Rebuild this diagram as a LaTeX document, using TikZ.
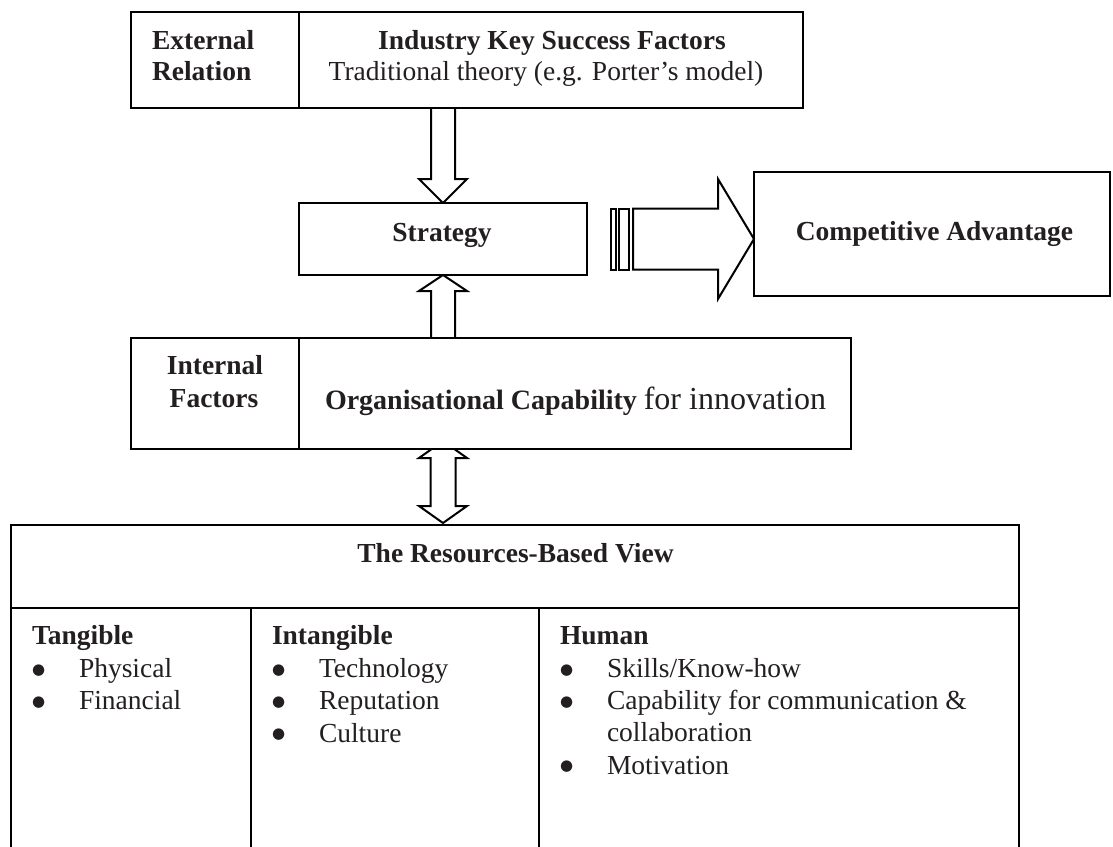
\documentclass[tikz,border=0pt]{standalone}
\usepackage{fontspec}
\setmainfont{Liberation Serif}
\newfontfamily\dotfont{DejaVu Sans}
\usetikzlibrary{calc,backgrounds}
\definecolor{ink}{HTML}{231F20}
\tikzset{
  box/.style={draw=black, line width=2.2pt, fill=white, rectangle,
    inner sep=0pt, outer sep=0pt, anchor=north west},
  blk/.style={draw=black, line width=2pt, fill=white, line join=miter},
  txt/.style={inner sep=0pt, outer sep=0pt, text=ink,
    font=\fontsize{27.5}{33}\selectfont},
  btxt/.style={txt, font=\fontsize{27.5}{33}\selectfont\bfseries},
  bul/.style={txt, anchor=base west, font=\dotfont\fontsize{15}{15}\selectfont},
  itm/.style={txt, anchor=base west},
}
\begin{document}
\begin{tikzpicture}[x=1pt,y=-1pt]
\useasboundingbox (0,0) rectangle (1113,846);
\clip (0,0) rectangle (1113,846);

% ---- boxes ----
\node[box, minimum width=168, minimum height=96]  (ext)   at (131,12)  {};
\node[box, minimum width=504, minimum height=96]  (ind)   at (299,12)  {};
\node[box, minimum width=288, minimum height=72]  (strat) at (299,203) {};
\node[box, minimum width=356, minimum height=124] (comp)  at (754,172) {};
\node[box, minimum width=168, minimum height=111] (intf)  at (131,338) {};
\node[box, minimum width=552, minimum height=111] (org)   at (299,338) {};
\node[box, minimum width=1008, minimum height=83] (rbv)   at (11,525)  {};
% resource columns run past the lower edge
\node[box, minimum width=240, minimum height=270] (tang)  at (11,608)  {};
\node[box, minimum width=288, minimum height=270] (intg)  at (251,608) {};
\node[box, minimum width=480, minimum height=270] (hum)   at (539,608) {};

% ---- labels ----
\node[btxt, anchor=base west] (extA) at (152,49)   {External};
\node[btxt, anchor=base west] (extB) at (152,80.5) {Relation};
\node[btxt, anchor=base] (indA) at (552,49)   {Industry Key Success Factors};
\node[txt,  anchor=base] (indB) at (546,80.5) {Traditional theory (e.g. Porter’s model)};
\node[btxt, anchor=base] (stratT) at (442,241) {Strategy};
\node[btxt, anchor=base] (compT)  at (934.5,240) {Competitive Advantage};
\node[btxt, anchor=base] (intA) at (215,374.3) {Internal};
\node[btxt, anchor=base] (intB) at (214,407.3) {Factors};
\node[txt, anchor=base west] (orgT) at (325,409)
  {{\fontsize{28}{33}\selectfont\bfseries Organisational Capability} {\fontsize{32}{38}\selectfont for innovation}};

\node[btxt, anchor=base] (rbvT) at (515.5,562) {The Resources-Based View};
\node[btxt, anchor=base west] (tangH) at (32,644)  {Tangible};
\node[btxt, anchor=base west] (intgH) at (272,644) {Intangible};
\node[btxt, anchor=base west] (humH)  at (560,644) {Human};

% tangible
\node[bul] (b1) at (32,674)    {●};
\node[itm] (i1) at (79,677.5)  {Physical};
\node[bul] (b2) at (32,706)    {●};
\node[itm] (i2) at (79,709.5)  {Financial};
% intangible
\node[bul] (b3) at (272,674)   {●};
\node[itm] (i3) at (319,677.5) {Technology};
\node[bul] (b4) at (272,706)   {●};
\node[itm] (i4) at (319,709.5) {Reputation};
\node[bul] (b5) at (272,738.5) {●};
\node[itm] (i5) at (319,742)   {Culture};
% human
\node[bul] (b6) at (560,674)   {●};
\node[itm] (i6) at (607,677.5) {Skills/Know-how};
\node[bul] (b7) at (560,706)   {●};
\node[itm] (i7) at (607,709.5) {Capability for communication \&};
\node[itm] (i8) at (607,741)   {collaboration};
\node[bul] (b9) at (560,770.5) {●};
\node[itm] (i9) at (607,774)   {Motivation};

% ---- block arrows, drawn beneath the boxes ----
\begin{scope}[on background layer]
  \fill[white] (0,0) rectangle (1113,846);

  % industry factors -> strategy
  \coordinate (a1t) at (strat.north |- ind.south);
  \draw[blk] ($(a1t)+(-12,0)$) -- ($(strat.north)+(-12,-24)$)
    -- ($(strat.north)+(-24,-24)$) -- (strat.north)
    -- ($(strat.north)+(24,-24)$) -- ($(strat.north)+(12,-24)$)
    -- ($(a1t)+(12,0)$);

  % organisational capability -> strategy
  \coordinate (a2b) at (strat.south |- org.north);
  \draw[blk] ($(a2b)+(-12,0)$) -- ($(strat.south)+(-12,16)$)
    -- ($(strat.south)+(-24,16)$) -- (strat.south)
    -- ($(strat.south)+(24,16)$) -- ($(strat.south)+(12,16)$)
    -- ($(a2b)+(12,0)$);

  % capability <-> resources
  \coordinate (a3t) at ($(strat.south |- org.south)+(0,-8)$);
  \coordinate (a3b) at ($(strat.south |- rbv.north)+(0,-2)$);
  \draw[blk] (a3t) -- ($(a3t)+(24,17)$) -- ($(a3t)+(12.5,17)$)
    -- ($(a3b)+(12.5,-17)$) -- ($(a3b)+(24,-17)$) -- (a3b)
    -- ($(a3b)+(-24,-17)$) -- ($(a3b)+(-12.5,-17)$)
    -- ($(a3t)+(-12.5,17)$) -- ($(a3t)+(-24,17)$) -- cycle;

  % strategy => competitive advantage (striped arrow)
  \coordinate (sa) at (strat.east);
  \coordinate (sb) at (comp.west |- strat.east);
  \draw[blk] ($(sa)+(24,-30.5)$) rectangle ($(sa)+(29,30.5)$);
  \draw[blk] ($(sa)+(32,-30.5)$) rectangle ($(sa)+(42,30.5)$);
  \draw[blk] ($(sa)+(46,-30.5)$) -- ($(sb)+(-36,-30.5)$)
    -- ($(sb)+(-36,-60)$) -- (sb) -- ($(sb)+(-36,60)$)
    -- ($(sb)+(-36,30.5)$) -- ($(sa)+(46,30.5)$) -- cycle;
\end{scope}
\end{tikzpicture}
\end{document}
